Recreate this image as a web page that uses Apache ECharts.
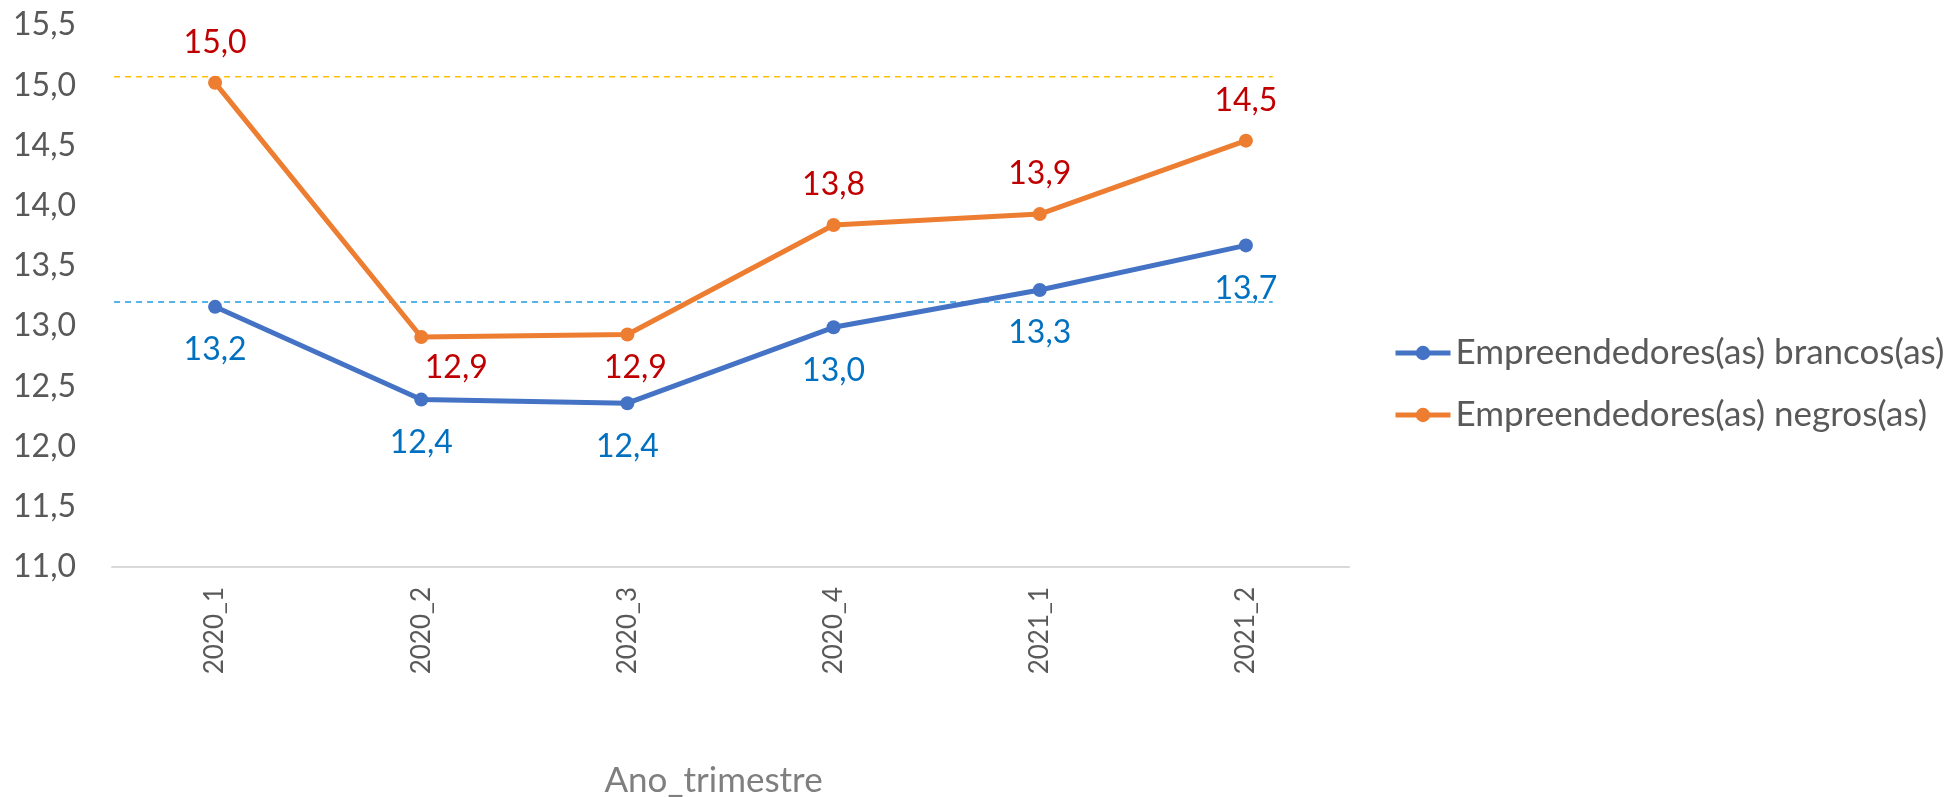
<!DOCTYPE html>
<html lang="pt">
<head>
    <meta charset="UTF-8">
    <title>Empreendedores por trimestre</title>
    <script src="https://cdn.jsdelivr.net/npm/echarts@6.0.0/dist/echarts.min.js"></script>
    <style>
        html, body { margin: 0; padding: 0; background: #fff; }
        #chart { width: 1949px; height: 797px; }
    </style>
</head>
<body>
<div id="chart"></div>
<script>
    // dados
    var categories = ['2020_1', '2020_2', '2020_3', '2020_4', '2021_1', '2021_2'];
    var brancos = [13.16, 12.39, 12.36, 12.99, 13.30, 13.67];
    var negros = [15.02, 12.91, 12.93, 13.84, 13.93, 14.54];
    var refNegros = 15.07;   // linha tracejada amarela
    var refBrancos = 13.20;  // linha tracejada azul
    // extensão das linhas tracejadas, em unidades de categoria (0 = início do eixo, 6 = fim)
    var refInicio = -0.15, refFim = 5.63;
    var yMin = 11, yMax = 15.5, yStep = 0.5;

    var nomes = ['Empreendedores(as) brancos(as)', 'Empreendedores(as) negros(as)'];

    var fonte = 'Lato, "Open Sans", sans-serif';
    function virgula(v) { return Number(v).toFixed(1).replace('.', ','); }

    // rótulos dos negros que ficam abaixo do ponto
    var ajusteNegros = {
        1: { position: 'bottom', distance: 5, offset: [35, 0] },
        2: { position: 'bottom', distance: 7, offset: [8, 0] }
    };

    var negrosData = negros.map(function (v, i) {
        return ajusteNegros[i] ? { value: v, label: ajusteNegros[i] } : v;
    });

    function linhaRef(valor, cor) {
        return {
            type: 'line',
            xAxisIndex: 1,
            data: [[refInicio, valor], [refFim, valor]],
            symbol: 'none',
            silent: true,
            clip: false,
            lineStyle: { type: [6, 5], color: cor, width: 1.5 },
            z: 1
        };
    }

    var chart = echarts.init(document.getElementById('chart'));

    var option = {
        backgroundColor: '#ffffff',
        animation: false,
        textStyle: { fontFamily: fonte },
        grid: { left: 112, right: 600, top: 25, bottom: 230, outerBoundsMode: 'none', containLabel: false },
        legend: {
            orient: 'vertical',
            left: 1388,
            top: 328,
            itemWidth: 55,
            itemHeight: 18,
            itemGap: 22,
            data: nomes,
            lineStyle: { width: 5 },
            textStyle: { fontFamily: fonte, fontSize: 35, color: '#595959', lineHeight: 40 }
        },
        xAxis: [
            {
                type: 'category',
                data: categories,
                boundaryGap: true,
                name: 'Ano_trimestre',
                nameLocation: 'middle',
                nameGap: 196,
                nameTextStyle: { fontFamily: fonte, fontSize: 35, color: '#7f7f7f', padding: [0, 34, 0, 0] },
                axisLine: { show: true, lineStyle: { color: '#d9d9d9', width: 2 } },
                axisTick: { show: false },
                axisLabel: { rotate: 90, margin: 20, fontFamily: fonte, fontSize: 26, color: '#595959' },
                splitLine: { show: false }
            },
            {
                type: 'value',
                min: 0,
                max: categories.length,
                show: false
            }
        ],
        yAxis: {
            type: 'value',
            min: yMin,
            max: yMax,
            interval: yStep,
            axisLine: { show: false },
            axisTick: { show: false },
            splitLine: { show: false },
            axisLabel: { margin: 36, fontFamily: fonte, fontSize: 32, color: '#595959', formatter: virgula }
        },
        series: [
            linhaRef(refBrancos, '#1f9bde'),
            linhaRef(refNegros, '#ffc000'),
            {
                name: nomes[0],
                type: 'line',
                data: brancos,
                symbol: 'circle',
                symbolSize: 14,
                color: '#4472c4',
                lineStyle: { width: 5, color: '#4472c4' },
                itemStyle: { color: '#4472c4' },
                label: {
                    show: true,
                    position: 'bottom',
                    distance: 17,
                    fontFamily: fonte,
                    fontSize: 32,
                    lineHeight: 38,
                    color: '#0070c0',
                    formatter: function (p) { return virgula(p.value); }
                },
                z: 3
            },
            {
                name: nomes[1],
                type: 'line',
                data: negrosData,
                symbol: 'circle',
                symbolSize: 14,
                color: '#ed7d31',
                lineStyle: { width: 5, color: '#ed7d31' },
                itemStyle: { color: '#ed7d31' },
                label: {
                    show: true,
                    position: 'top',
                    distance: 14,
                    fontFamily: fonte,
                    fontSize: 32,
                    lineHeight: 38,
                    color: '#c00000',
                    formatter: function (p) { return virgula(p.value); }
                },
                z: 3
            }
        ]
    };

    chart.setOption(option);
</script>
</body>
</html>
